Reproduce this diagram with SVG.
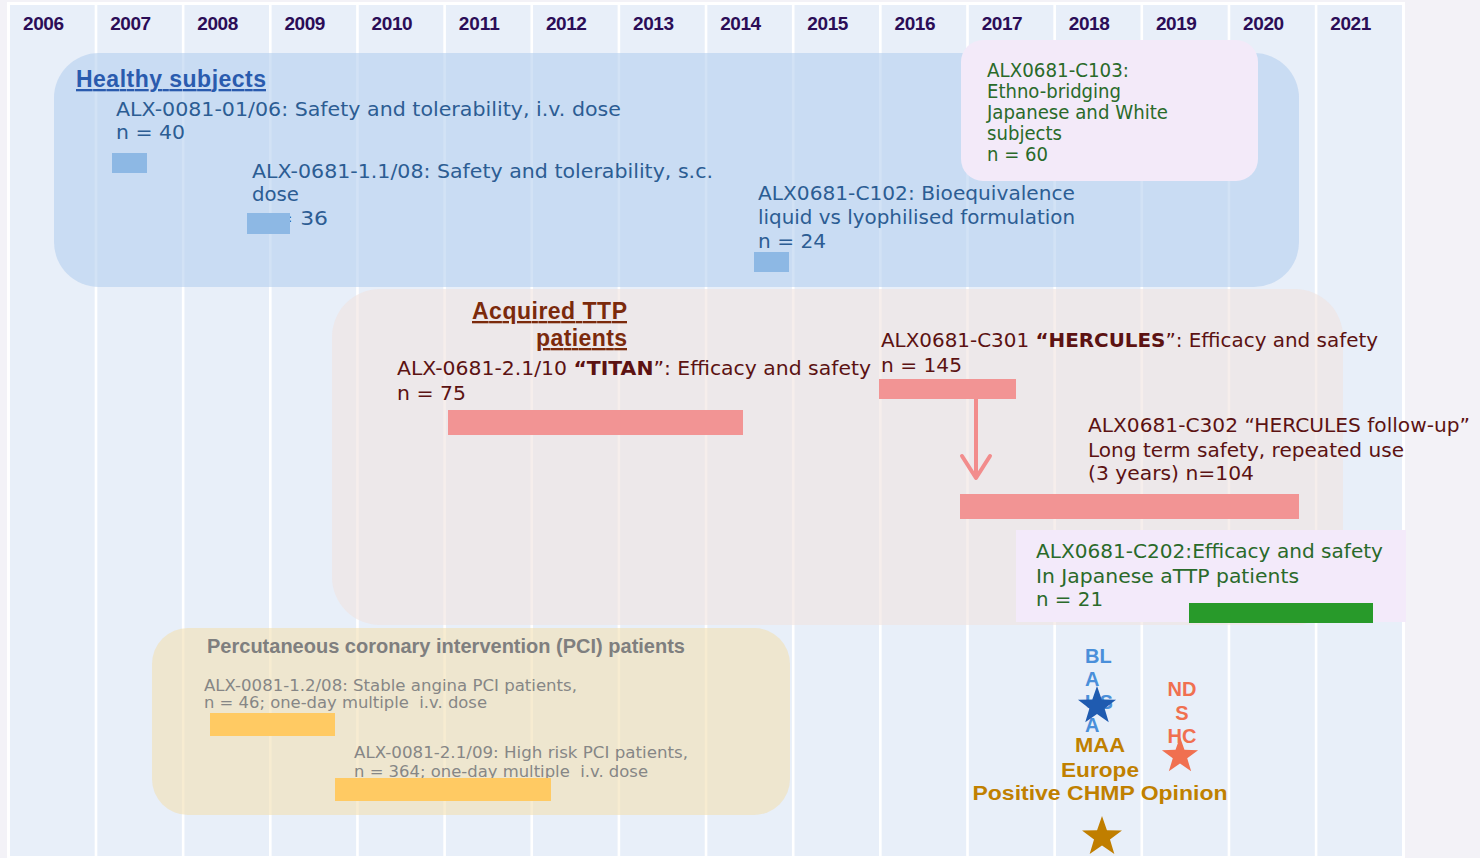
<svg xmlns="http://www.w3.org/2000/svg" xmlns:xlink="http://www.w3.org/1999/xlink" width="1480" height="858" viewBox="0 0 1480 858">
<style>
.yr{font-family:"Liberation Sans",Arial,sans-serif;font-weight:bold;font-size:19px;fill:#2B0D57}
.st{font-family:"DejaVu Sans","Liberation Sans",sans-serif;font-size:19px}
.hs{fill:#2C5D93}
.gr{fill:#2A6A2A}
.tt{fill:#5C1212}
.pc{fill:#868686;font-size:16px}
.ttl{font-family:"Liberation Sans",Arial,sans-serif;font-weight:bold;text-decoration:underline}
.lbl{font-family:"Liberation Sans",Arial,sans-serif;font-weight:bold;font-size:20px}
.vline{fill:#FFFFFF}
.bigbox{fill-opacity:0.6}
</style>
<defs>
<path id="star" d="M0,-1 L0.235,-0.324 L0.951,-0.309 L0.380,0.124 L0.588,0.809 L0,0.4 L-0.588,0.809 L-0.380,0.124 L-0.951,-0.309 L-0.235,-0.324Z"/>
<marker id="chev" markerUnits="userSpaceOnUse" markerWidth="34" markerHeight="34" viewBox="0 0 34 34" refX="30" refY="17" orient="auto">
<path d="M8,3 L30,17 L8,31" fill="none" stroke="#F28C8C" stroke-width="4" stroke-linejoin="round" stroke-linecap="round"/>
</marker>
</defs>
<rect x="0" y="0" width="1480" height="858" fill="#F3F2F7"/>
<g id="grid">
<rect x="7" y="2" width="1398" height="856" fill="#FFFFFF"/>
<rect x="10" y="5" width="1392" height="851" fill="#E8EFF9"/>
<rect class="vline" x="94.7" y="5" width="2.6" height="851"/>
<rect class="vline" x="181.85" y="5" width="2.6" height="851"/>
<rect class="vline" x="269" y="5" width="2.6" height="851"/>
<rect class="vline" x="356.15" y="5" width="2.6" height="851"/>
<rect class="vline" x="443.3" y="5" width="2.6" height="851"/>
<rect class="vline" x="530.45" y="5" width="2.6" height="851"/>
<rect class="vline" x="617.6" y="5" width="2.6" height="851"/>
<rect class="vline" x="704.75" y="5" width="2.6" height="851"/>
<rect class="vline" x="791.9" y="5" width="2.6" height="851"/>
<rect class="vline" x="879.05" y="5" width="2.6" height="851"/>
<rect class="vline" x="966.2" y="5" width="2.6" height="851"/>
<rect class="vline" x="1053.35" y="5" width="2.6" height="851"/>
<rect class="vline" x="1140.5" y="5" width="2.6" height="851"/>
<rect class="vline" x="1227.65" y="5" width="2.6" height="851"/>
<rect class="vline" x="1314.8" y="5" width="2.6" height="851"/>
<text class="yr" x="23" y="30" textLength="41">2006</text>
<text class="yr" x="110.15" y="30" textLength="41">2007</text>
<text class="yr" x="197.3" y="30" textLength="41">2008</text>
<text class="yr" x="284.45" y="30" textLength="41">2009</text>
<text class="yr" x="371.6" y="30" textLength="41">2010</text>
<text class="yr" x="458.75" y="30" textLength="41">2011</text>
<text class="yr" x="545.9" y="30" textLength="41">2012</text>
<text class="yr" x="633.05" y="30" textLength="41">2013</text>
<text class="yr" x="720.2" y="30" textLength="41">2014</text>
<text class="yr" x="807.35" y="30" textLength="41">2015</text>
<text class="yr" x="894.5" y="30" textLength="41">2016</text>
<text class="yr" x="981.65" y="30" textLength="41">2017</text>
<text class="yr" x="1068.8" y="30" textLength="41">2018</text>
<text class="yr" x="1155.95" y="30" textLength="41">2019</text>
<text class="yr" x="1243.1" y="30" textLength="41">2020</text>
<text class="yr" x="1330.25" y="30" textLength="41">2021</text>
</g>
<g id="healthy-subjects">
<rect class="bigbox" x="54" y="53" width="1245" height="234" rx="45" fill="#B4CFEF"/>
<text class="ttl" x="76" y="87" font-size="23" fill="#2A5BAE" textLength="190">Healthy subjects</text>
</g>
<g id="study-alx0081-0106">
<text class="st hs" x="116" y="116" textLength="505" lengthAdjust="spacingAndGlyphs">ALX-0081-01/06: Safety and tolerability, i.v. dose</text>
<text class="st hs" x="116" y="139" textLength="69" lengthAdjust="spacingAndGlyphs">n = 40</text>
<rect x="112" y="153" width="35" height="20" fill="#8DB8E4"/>
</g>
<g id="study-alx0681-1108">
<text class="st hs" x="252" y="178" textLength="461" lengthAdjust="spacingAndGlyphs">ALX-0681-1.1/08: Safety and tolerability, s.c.</text>
<text class="st hs" x="252" y="201" textLength="47" lengthAdjust="spacingAndGlyphs">dose</text>
<text class="st hs" x="254" y="225" textLength="74" lengthAdjust="spacingAndGlyphs">n = 36</text>
<rect x="247" y="213" width="43" height="21" fill="#8DB8E4"/>
</g>
<g id="study-c102">
<text class="st hs" x="758" y="200" textLength="317" lengthAdjust="spacingAndGlyphs">ALX0681-C102: Bioequivalence</text>
<text class="st hs" x="758" y="224" textLength="317" lengthAdjust="spacingAndGlyphs">liquid vs lyophilised formulation</text>
<text class="st hs" x="758" y="248" textLength="68" lengthAdjust="spacingAndGlyphs">n = 24</text>
<rect x="754" y="252" width="35" height="20" fill="#8DB8E4"/>
</g>
<g id="study-c103">
<rect x="961" y="40" width="297" height="141" rx="22" fill="#F3EAF9"/>
<text class="st gr" x="987" y="77" font-size="18" textLength="142" lengthAdjust="spacingAndGlyphs">ALX0681-C103:</text>
<text class="st gr" x="987" y="98" font-size="18" textLength="134" lengthAdjust="spacingAndGlyphs">Ethno-bridging</text>
<text class="st gr" x="987" y="119" font-size="18" textLength="181" lengthAdjust="spacingAndGlyphs">Japanese and White</text>
<text class="st gr" x="987" y="140" font-size="18" textLength="75" lengthAdjust="spacingAndGlyphs">subjects</text>
<text class="st gr" x="987" y="161" font-size="18" textLength="61" lengthAdjust="spacingAndGlyphs">n = 60</text>
</g>
<g id="acquired-ttp">
<rect class="bigbox" x="332" y="289" width="1011" height="336" rx="48" fill="#F0E3E0"/>
<text class="ttl" x="627" y="319" font-size="23" fill="#7B2A0C" text-anchor="end" textLength="155">Acquired TTP</text>
<text class="ttl" x="627" y="346" font-size="23" fill="#7B2A0C" text-anchor="end" textLength="91">patients</text>
</g>
<g id="study-titan">
<text class="st tt" x="397" y="375" textLength="474" lengthAdjust="spacingAndGlyphs">ALX-0681-2.1/10 <tspan font-weight="bold">“TITAN</tspan>”: Efficacy and safety</text>
<text class="st tt" x="397" y="400" textLength="69" lengthAdjust="spacingAndGlyphs">n = 75</text>
<rect x="448" y="410" width="295" height="25" fill="#F29494"/>
</g>
<g id="study-hercules">
<text class="st tt" x="881" y="347" textLength="497" lengthAdjust="spacingAndGlyphs">ALX0681-C301 <tspan font-weight="bold">“HERCULES</tspan>”: Efficacy and safety</text>
<text class="st tt" x="881" y="372" textLength="81" lengthAdjust="spacingAndGlyphs">n = 145</text>
<rect x="879" y="379" width="137" height="20" fill="#F29494"/>
</g>
<g id="study-c302">
<text class="st tt" x="1088" y="432" textLength="382" lengthAdjust="spacingAndGlyphs">ALX0681-C302 “HERCULES follow-up”</text>
<text class="st tt" x="1088" y="457" textLength="316" lengthAdjust="spacingAndGlyphs">Long term safety, repeated use</text>
<text class="st tt" x="1088" y="480" textLength="166" lengthAdjust="spacingAndGlyphs">(3 years) n=104</text>
<rect x="960" y="494" width="339" height="25" fill="#F29494"/>
</g>
<g id="study-c202">
<rect x="1016" y="530" width="390" height="92" fill="#F3EAFA"/>
<text class="st gr" x="1036" y="558" font-size="20" textLength="347" lengthAdjust="spacingAndGlyphs">ALX0681-C202:Efficacy and safety</text>
<text class="st gr" x="1036" y="583" font-size="20" textLength="263" lengthAdjust="spacingAndGlyphs">In Japanese aTTP patients</text>
<text class="st gr" x="1036" y="606" font-size="20" textLength="67" lengthAdjust="spacingAndGlyphs">n = 21</text>
<rect x="1189" y="603" width="184" height="20" fill="#289A2A"/>
</g>
<g id="pci-patients">
<rect class="bigbox" x="152" y="628" width="638" height="187" rx="36" fill="#F2E0B3"/>
<text x="207" y="653" font-family="Liberation Sans, Arial, sans-serif" font-weight="bold" font-size="20" fill="#7F7F7F" textLength="478" lengthAdjust="spacingAndGlyphs">Percutaneous coronary intervention (PCI) patients</text>
</g>
<g id="study-alx0081-1208">
<text class="st pc" x="204" y="691" textLength="373" lengthAdjust="spacingAndGlyphs">ALX-0081-1.2/08: Stable angina PCI patients,</text>
<text class="st pc" x="204" y="708" textLength="283" lengthAdjust="spacingAndGlyphs" style="white-space:pre">n = 46; one-day multiple  i.v. dose</text>
<rect x="210" y="713" width="125" height="23" fill="#FFCA63"/>
</g>
<g id="study-alx0081-2109">
<text class="st pc" x="354" y="758" textLength="334" lengthAdjust="spacingAndGlyphs">ALX-0081-2.1/09: High risk PCI patients,</text>
<text class="st pc" x="354" y="777" textLength="294" lengthAdjust="spacingAndGlyphs" style="white-space:pre">n = 364; one-day multiple  i.v. dose</text>
<rect x="335" y="778" width="216" height="23" fill="#FFCA63"/>
</g>
<g id="milestone-bla-usa">
<text class="lbl" x="1085" y="663" fill="#4A8FDA">BL</text>
<text class="lbl" x="1085" y="686" fill="#4A8FDA">A</text>
<text class="lbl" x="1085" y="709" fill="#4A8FDA">US</text>
<text class="lbl" x="1085" y="732" fill="#4A8FDA">A</text>
<use xlink:href="#star" href="#star" transform="translate(1097,706) scale(20)" fill="#1F5BB0"/>
</g>
<g id="milestone-ndshc">
<text class="lbl" x="1182" y="696" fill="#F07050" text-anchor="middle">ND</text>
<text class="lbl" x="1182" y="720" fill="#F07050" text-anchor="middle">S</text>
<text class="lbl" x="1182" y="743" fill="#F07050" text-anchor="middle">HC</text>
<use xlink:href="#star" href="#star" transform="translate(1180,756) scale(19)" fill="#F07050"/>
</g>
<g id="milestone-maa">
<text class="lbl" x="1100" y="752" font-size="22" fill="#C08000" text-anchor="middle" textLength="50" lengthAdjust="spacingAndGlyphs">MAA</text>
<text class="lbl" x="1100" y="777" font-size="22" fill="#C08000" text-anchor="middle" textLength="78" lengthAdjust="spacingAndGlyphs">Europe</text>
<text class="lbl" x="1100" y="800" font-size="22" fill="#C08000" text-anchor="middle" textLength="255" lengthAdjust="spacingAndGlyphs">Positive CHMP Opinion</text>
<use xlink:href="#star" href="#star" transform="translate(1102,837) scale(21)" fill="#C07E00"/>
</g>
<g id="connectors">
<line x1="976" y1="399" x2="976" y2="478" stroke="#F28C8C" stroke-width="4" marker-end="url(#chev)"/>
</g>
</svg>
